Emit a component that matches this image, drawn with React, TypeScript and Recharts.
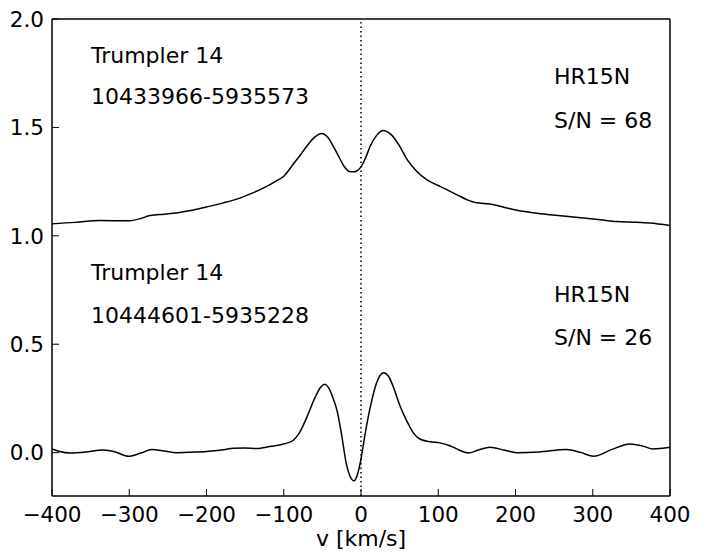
import { LineChart, Line, XAxis, YAxis, ReferenceLine } from "recharts";

const upperV = [-400, -370, -338, -302, -285, -273, -255, -239, -220, -200, -178, -157, -140, -122, -110, -100, -88, -78, -70, -60, -51, -43, -36, -28, -22, -15, -10, -5, 0, 6, 12, 20, 29, 38, 50, 60, 72, 85, 100, 111, 125, 137, 150, 167, 185, 202, 225, 245, 265, 288, 310, 331, 355, 374, 400];
const upperFlux = [1.056, 1.062, 1.071, 1.069, 1.08, 1.094, 1.1, 1.105, 1.117, 1.133, 1.152, 1.174, 1.198, 1.228, 1.252, 1.275, 1.329, 1.375, 1.414, 1.455, 1.472, 1.455, 1.414, 1.36, 1.321, 1.297, 1.295, 1.3, 1.318, 1.36, 1.414, 1.462, 1.486, 1.47, 1.414, 1.35, 1.298, 1.259, 1.232, 1.213, 1.188, 1.167, 1.152, 1.147, 1.132, 1.118, 1.105, 1.097, 1.09, 1.082, 1.074, 1.066, 1.063, 1.059, 1.048];

const lowerV = [-400, -390, -377, -355, -334, -318, -301, -285, -271, -255, -239, -220, -200, -180, -165, -150, -135, -118, -100, -88, -80, -70, -60, -52, -47, -42, -36, -31, -25, -19, -14, -9, -5, 0, 5, 12, 20, 29, 36, 42, 50, 59, 68, 76, 90, 102, 115, 127, 139, 152, 167, 185, 202, 230, 266, 285, 301, 325, 348, 365, 378, 400];
const lowerFlux = [0.017, 0.005, -0.002, 0.003, 0.012, 0.003, -0.017, -0.002, 0.014, 0.008, 0, 0.002, 0.005, 0.012, 0.02, 0.021, 0.019, 0.028, 0.04, 0.056, 0.09, 0.164, 0.25, 0.303, 0.315, 0.3, 0.25, 0.194, 0.08, -0.052, -0.11, -0.13, -0.105, -0.03, 0.08, 0.21, 0.32, 0.369, 0.35, 0.302, 0.22, 0.148, 0.09, 0.063, 0.05, 0.045, 0.032, 0.012, -0.002, 0.012, 0.025, 0.012, 0, 0.003, 0.014, 0, -0.017, 0.015, 0.04, 0.03, 0.017, 0.025];

const xTicks = [-400, -300, -200, -100, 0, 100, 200, 300, 400];
const yTicks = [0, 0.5, 1, 1.5, 2];

const upperLabels = ["Trumpler 14", "10433966-5935573", "HR15N", "S/N = 68"];
const lowerLabels = ["Trumpler 14", "10444601-5935228", "HR15N", "S/N = 26"];

const upper = upperV.map((v, i) => ({ v, f: upperFlux[i] }));
const lower = lowerV.map((v, i) => ({ v, f: lowerFlux[i] }));

const FONT = "DejaVu Sans";
const FS = 21.5;
const AFS = 22;
const TL = 7;
const minus = (s: string) => s.replace("-", "\u2212");

const BottomTick = ({ x, y, payload }: any) => (
  <g>
    <line x1={x} y1={y} x2={x} y2={y - TL} stroke="#000" strokeWidth={1} />
    <text x={x} y={y + 26} textAnchor="middle" fontFamily={FONT} fontSize={FS} fill="#000">
      {minus(String(payload.value))}
    </text>
  </g>
);
const TopTick = ({ x, y }: any) => (
  <line x1={x} y1={y} x2={x} y2={y + TL} stroke="#000" strokeWidth={1} />
);
const LeftTick = ({ x, y, payload }: any) => (
  <g>
    <line x1={x} y1={y} x2={x + TL} y2={y} stroke="#000" strokeWidth={1} />
    <text x={x - 8} y={y + 7.8} textAnchor="end" fontFamily={FONT} fontSize={FS} fill="#000">
      {minus(payload.value.toFixed(1))}
    </text>
  </g>
);
const RightTick = ({ x, y }: any) => (
  <line x1={x} y1={y} x2={x - TL} y2={y} stroke="#000" strokeWidth={1} />
);

const axisLine = { stroke: "#000", strokeWidth: 1.5 };

export default function App() {
  const text = (t: string, x: number, y: number) => (
    <text key={t + y} x={x} y={y} fontFamily={FONT} fontSize={AFS} fill="#000">
      {t}
    </text>
  );
  return (
    <div style={{ position: "absolute", left: 0, top: 0, width: 713, height: 556, background: "#fff" }}>
      <LineChart width={713} height={556} margin={{ top: 0, right: 0, left: 0, bottom: 0 }}>
        <XAxis
          xAxisId="b"
          type="number"
          dataKey="v"
          domain={[-400, 400]}
          ticks={xTicks}
          height={60}
          tickSize={0}
          tickMargin={0}
          tickLine={false}
          axisLine={axisLine}
          tick={<BottomTick />}
          allowDataOverflow
        />
        <XAxis
          xAxisId="t"
          orientation="top"
          type="number"
          dataKey="v"
          domain={[-400, 400]}
          ticks={xTicks}
          height={19}
          tickSize={0}
          tickMargin={0}
          tickLine={false}
          axisLine={axisLine}
          tick={<TopTick />}
        />
        <YAxis
          yAxisId="l"
          type="number"
          domain={[-0.2, 2]}
          ticks={yTicks}
          width={52}
          tickSize={0}
          tickMargin={0}
          tickLine={false}
          axisLine={axisLine}
          tick={<LeftTick />}
          allowDataOverflow
        />
        <YAxis
          yAxisId="r"
          orientation="right"
          type="number"
          domain={[-0.2, 2]}
          ticks={yTicks}
          width={43}
          tickSize={0}
          tickMargin={0}
          tickLine={false}
          axisLine={axisLine}
          tick={<RightTick />}
        />
        <ReferenceLine xAxisId="b" yAxisId="l" x={0} stroke="#000" strokeWidth={1.5} strokeDasharray="1.5 3" />
        <Line
          xAxisId="b"
          yAxisId="l"
          data={upper}
          dataKey="f"
          type="monotone"
          stroke="#000"
          strokeWidth={1.5}
          dot={false}
          isAnimationActive={false}
        />
        <Line
          xAxisId="b"
          yAxisId="l"
          data={lower}
          dataKey="f"
          type="monotone"
          stroke="#000"
          strokeWidth={1.5}
          dot={false}
          isAnimationActive={false}
        />
      </LineChart>
      <svg width={713} height={556} style={{ position: "absolute", left: 0, top: 0, pointerEvents: "none" }}>
        {text(upperLabels[0], 91, 63)}
        {text(upperLabels[1], 91, 104)}
        {text(upperLabels[2], 554, 84)}
        {text(upperLabels[3], 554, 128)}
        {text(lowerLabels[0], 91, 280)}
        {text(lowerLabels[1], 91, 323)}
        {text(lowerLabels[2], 554, 302)}
        {text(lowerLabels[3], 554, 345)}
        <text x={361} y={546} textAnchor="middle" fontFamily={FONT} fontSize={AFS} fill="#000">
          v [km/s]
        </text>
      </svg>
    </div>
  );
}
